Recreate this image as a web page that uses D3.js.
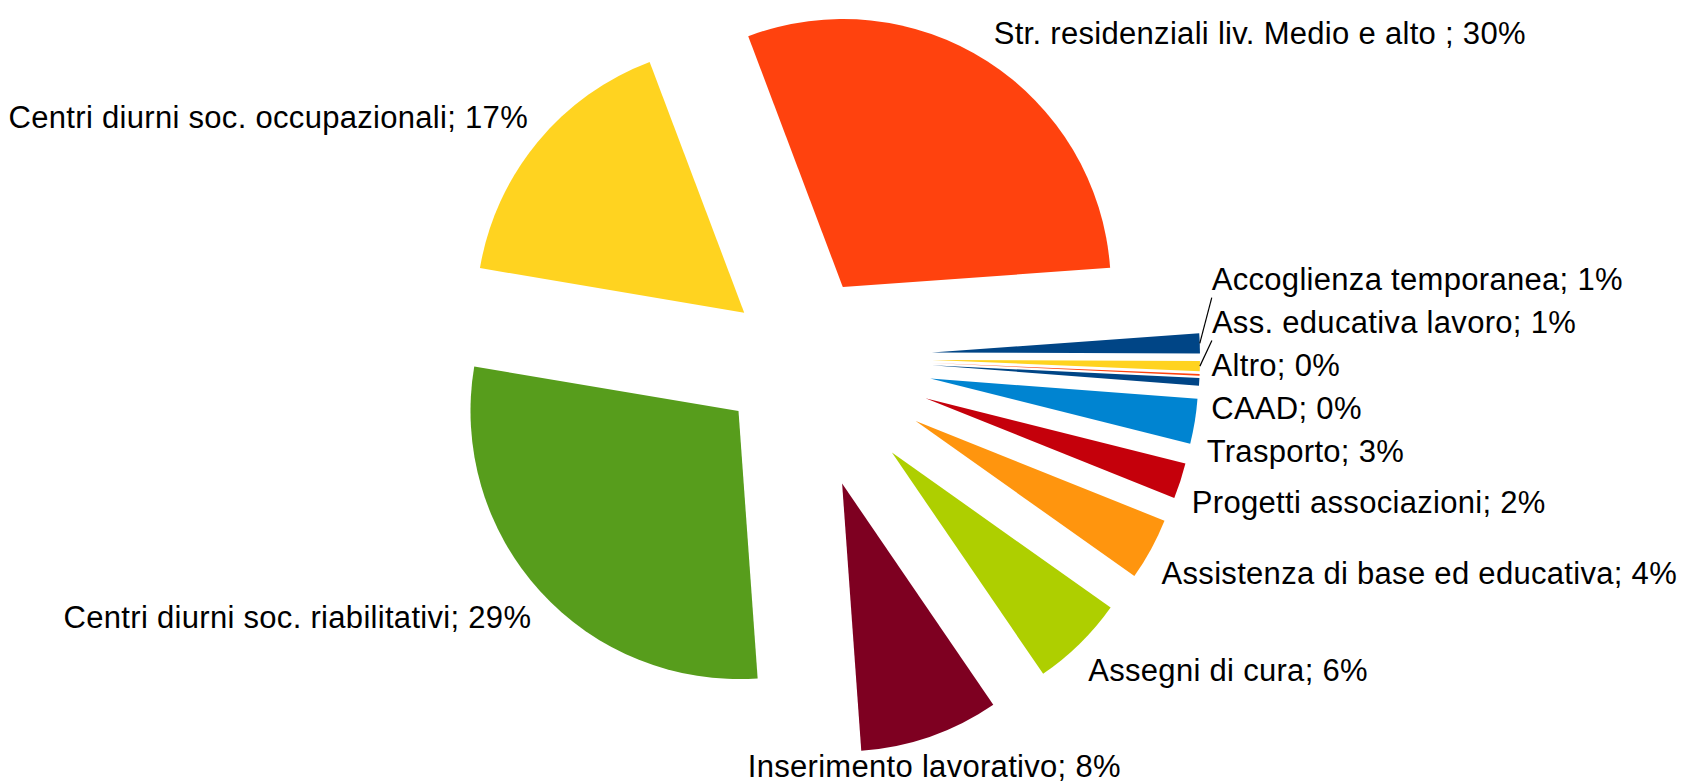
<!DOCTYPE html>
<html>
<head>
<meta charset="utf-8">
<script src="https://cdnjs.cloudflare.com/ajax/libs/d3/7.8.5/d3.min.js"></script>
<style>
  html, body { margin: 0; padding: 0; background: #fff; }
  svg { display: block; }
  .lbl { font-family: "Liberation Sans", Arial, sans-serif; font-size: 31px; letter-spacing: 0.3px; fill: #000; white-space: pre; }
  .leader { stroke: #000; stroke-width: 1.2; fill: none; }
</style>
</head>
<body>
<div id="chart"></div>
<script>
// slices in clockwise order, starting just right of 3 o'clock
var categories = [
  "Accoglienza temporanea",
  "Ass. educativa lavoro",
  "Altro",
  "CAAD",
  "Trasporto",
  "Progetti associazioni",
  "Assistenza di base ed educativa",
  "Assegni di cura",
  "Inserimento lavorativo",
  "Centri diurni soc. riabilitativi",
  "Centri diurni soc. occupazionali",
  "Str. residenziali liv. Medio e alto "
];
var values = [1.2, 0.6, 0.1, 0.45, 2.7, 2.15, 3.75, 5.65, 8.4, 28.8, 16.6, 29.6];

var colors = ["#004586", "#ffd320", "#ff420e", "#004586", "#0084d1", "#c5000b",
  "#ff950e", "#aecf00", "#7e0021", "#579d1c", "#ffd320", "#ff420e"];
// explosion, as a fraction of the radius
var explode = [0.5, 0.5, 0.5, 0.5, 0.5, 0.5, 0.5, 0.5, 0.5, 0.3, 0.26, 0.31];

var width = 1682, height = 783,
  radius = 268, cx = 798, cy = 357,
  labelGap = 12, halfH = 18, lineStep = 43;

var start = 85.9 * Math.PI / 180;
var total = d3.sum(values);

var pie = d3.pie()
  .sort(null)
  .value(function (d) { return d; })
  .startAngle(start)
  .endAngle(start + 2 * Math.PI);

var arc = d3.arc()
  .innerRadius(0)
  .outerRadius(radius);

var svg = d3.select("#chart").append("svg")
  .attr("width", width)
  .attr("height", height);

var slices = pie(values).map(function (d, i) {
  var mid = (d.startAngle + d.endAngle) / 2,
    sx = Math.sin(mid), sy = -Math.cos(mid),
    off = explode[i] * radius,
    ax = cx + off * sx, ay = cy + off * sy;
  var deg = (mid * 180 / Math.PI) % 360;
  var anchor = deg > 10 && deg < 150 ? "start" : deg > 210 && deg < 350 ? "end" : "middle";
  // label box sits above the edge point, or below it on the lower half
  var side = Math.abs(sy) > 0.25 ? Math.sign(sy) : -0.7;
  return {
    arc: d, i: i, mid: mid,
    ax: ax, ay: ay,
    ex: ax + radius * sx, ey: ay + radius * sy,       // point on the outer edge
    lx: ax + (radius + labelGap) * sx,
    ly: ay + (radius + labelGap) * sy + side * halfH, // wanted label centre
    anchor: anchor,
    text: categories[i] + "; " + Math.round(values[i] / total * 100) + "%"
  };
});

svg.append("g").selectAll("path")
  .data(slices)
  .enter().append("path")
  .attr("transform", function (d) { return "translate(" + d.ax + "," + d.ay + ")"; })
  .attr("d", function (d) { return arc(d.arc); })
  .attr("fill", function (d) { return colors[d.i]; });

// push right-hand labels apart so they do not overlap
var right = slices.filter(function (d) { return d.anchor == "start"; })
  .sort(function (a, b) { return a.ly - b.ly; });
var groups = [];
right.forEach(function (d) {
  groups.push([d]);
  while (groups.length > 1) {
    var g = groups[groups.length - 1], p = groups[groups.length - 2];
    var gTop = place(g)[0], pBot = place(p)[p.length - 1];
    if (gTop - pBot >= lineStep) break;
    groups.splice(groups.length - 2, 2, p.concat(g));
  }
});
groups.forEach(function (g) {
  var ys = place(g);
  g.forEach(function (d, k) { d.y = ys[k]; });
});
function place(g) {
  var m = d3.mean(g, function (d) { return d.ly; });
  return g.map(function (d, k) { return m + (k - (g.length - 1) / 2) * lineStep; });
}
slices.forEach(function (d) {
  if (d.y === undefined) d.y = d.ly;
  d.y = Math.min(d.y, height - 17);
});

// leader lines for labels lifted clear above their slice
svg.append("g").selectAll("line")
  .data(slices.filter(function (d) { return d.y < d.ly - 20 && d.y + 18 < d.ey; }))
  .enter().append("line")
  .attr("class", "leader")
  .attr("x1", function (d) { return d.ex; })
  .attr("y1", function (d) { return d.ey; })
  .attr("x2", function (d) { return d.lx; })
  .attr("y2", function (d) { return d.y + 18; });

svg.append("g").selectAll("text")
  .data(slices)
  .enter().append("text")
  .attr("class", "lbl")
  .attr("x", function (d) { return d.lx; })
  .attr("y", function (d) { return d.y; })
  .attr("dy", "0.35em")
  .attr("text-anchor", function (d) { return d.anchor; })
  .text(function (d) { return d.text; });
</script>
</body>
</html>
